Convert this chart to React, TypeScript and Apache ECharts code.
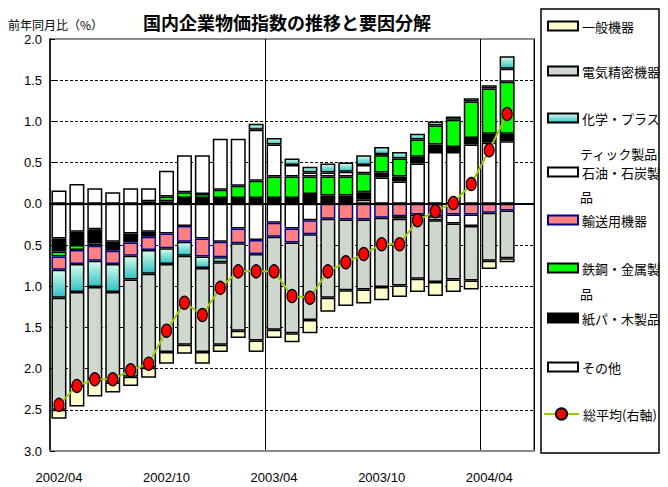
import React, { useEffect, useRef } from "react";
import * as echarts from "echarts";

// ---- data ----
const months = [
  "2002/04", "2002/05", "2002/06", "2002/07", "2002/08", "2002/09",
  "2002/10", "2002/11", "2002/12", "2003/01", "2003/02", "2003/03",
  "2003/04", "2003/05", "2003/06", "2003/07", "2003/08", "2003/09",
  "2003/10", "2003/11", "2003/12", "2004/01", "2004/02", "2004/03",
  "2004/04", "2004/05", "2004/06",
];

const sonota = [-0.42, -0.34, -0.31, -0.46, -0.36, -0.34, -0.36, -0.27, -0.42, -0.46, -0.30, -0.44, -0.23, -0.30, -0.20, null, null, 0.05, 0.32, 0.27, 0.49, 0.63, 0.63, 0.72, 0.74, 0.76];
const kamiPa = [-0.16, -0.16, -0.17, -0.11, -0.11, -0.06, 0.03, 0.07, 0.07, 0.07, 0.07, 0.07, 0.07, 0.07, 0.12, 0.10, 0.10, 0.09, 0.06, 0.06, 0.08, 0.09, 0.06, 0.08, 0.11, 0.09];
const tekko = [-0.06, -0.06, -0.03, null, null, 0.03, 0.06, 0.07, 0.05, 0.10, 0.15, 0.21, 0.26, 0.26, 0.21, 0.23, 0.23, 0.23, 0.21, 0.22, 0.21, 0.23, 0.33, 0.44, 0.55, 0.63];
const yuso = [-0.16, -0.17, -0.18, -0.16, -0.16, -0.16, -0.18, -0.19, -0.22, -0.19, -0.18, -0.17, -0.17, -0.17, -0.17, -0.18, -0.19, -0.19, -0.17, -0.15, -0.13, -0.15, -0.13, -0.13, -0.11, -0.08];
const sekiyu = [0.16, 0.24, 0.19, 0.14, 0.19, 0.16, 0.31, 0.45, 0.47, 0.62, 0.57, 0.62, 0.39, 0.14, 0.05, 0.05, 0.06, 0.10, 0.01, -0.03, null, -0.05, -0.11, -0.14, null, 0.16];
const kagaku = [-0.34, -0.34, -0.32, -0.34, -0.29, -0.29, -0.19, -0.17, -0.14, -0.06, null, 0.07, 0.08, 0.08, 0.07, 0.11, 0.11, 0.12, 0.09, 0.08, 0.07, 0.05, 0.04, 0.04, 0.04, 0.15];
const denki = [-1.36, -1.14, -1.12, -1.10, -1.18, -1.14, -1.07, -1.08, -1.02, -1.00, -1.06, -1.05, -1.13, -1.10, -1.04, -0.96, -0.86, -0.85, -0.84, -0.81, -0.78, -0.75, -0.68, -0.66, -0.58, -0.58];
const ippan = [-0.11, -0.25, -0.21, -0.12, -0.11, -0.12, -0.14, -0.11, -0.14, -0.09, -0.09, -0.14, -0.10, -0.11, -0.16, -0.17, -0.19, -0.17, -0.16, -0.14, -0.16, -0.17, -0.15, -0.11, -0.10, -0.05];
const sogoHeikin = [-2.44, -2.21, -2.13, -2.13, -2.02, -1.94, -1.54, -1.20, -1.35, -1.02, -0.82, -0.82, -0.82, -1.12, -1.14, -0.82, -0.71, -0.61, -0.49, -0.49, -0.20, -0.09, 0.01, 0.24, 0.65, 1.09];

const yTicks = { min: -3, max: 2, step: 0.5 };

const FONT_JP = '"Noto Sans CJK JP", "Noto Sans CJK SC", sans-serif';
const FONT_NUM = '"Liberation Sans", Arial, sans-serif';

const BORDER = { borderColor: "#000", borderWidth: 1.5 };

function makeOption() {
  const bar = (name: string, data: (number | null)[], itemStyle: any, extra: any = {}) => ({
    name,
    type: "bar",
    stack: "total",
    barWidth: 15,
    data,
    itemStyle,
    emphasis: { disabled: true },
    ...extra,
  });

  const tealGrad = new echarts.graphic.LinearGradient(0, 0, 0, 1, [
    { offset: 0, color: "#d8fbe9" },
    { offset: 1, color: "#2fc3c6" },
  ]);

  const series: any[] = [
    bar("その他", sonota, { color: "#ffffff", ...BORDER }),
    bar("紙パ・木製品", kamiPa, { color: "#000000", ...BORDER }),
    bar("鉄鋼・金属製品", tekko, { color: "#00ff00", ...BORDER }),
    bar("輸送用機器", yuso, { color: "#ff8080", borderColor: "#00008b", borderWidth: 1.5 }),
    bar("石油・石炭製品", sekiyu, { color: "#ffffff", ...BORDER }),
    bar("化学・プラスティック製品", kagaku, { color: tealGrad, ...BORDER }),
    bar("電気精密機器", denki, { color: "#cfd7cf", ...BORDER }),
    bar("一般機器", ippan, { color: "#ffffcc", ...BORDER }, {
      markLine: {
        silent: true,
        symbol: "none",
        label: { show: false },
        lineStyle: { color: "#000", width: 2, type: "solid" },
        data: [{ yAxis: 0 }],
      },
    }),
    {
      name: "総平均(右軸)",
      type: "line",
      data: sogoHeikin,
      symbol: "circle",
      symbolSize: [10, 13],
      showAllSymbol: true,
      lineStyle: { color: "#99cc00", width: 2 },
      itemStyle: { color: "#ff0000", borderColor: "#000", borderWidth: 1.2 },
      emphasis: { disabled: true },
      z: 5,
    },
  ];

  const legendItems: { name: string; y: number; label?: string; line?: boolean }[] = [
    { name: "一般機器", y: 26 },
    { name: "電気精密機器", y: 71 },
    { name: "化学・プラスティック製品", y: 118, label: "化学・プラス" },
    { name: "石油・石炭製品", y: 172, label: "石油・石炭製" },
    { name: "輸送用機器", y: 220 },
    { name: "鉄鋼・金属製品", y: 268, label: "鉄鋼・金属製" },
    { name: "紙パ・木製品", y: 318 },
    { name: "その他", y: 367 },
    { name: "総平均(右軸)", y: 414, line: true },
  ];

  const legend = legendItems.map((it) => ({
    data: [it.name],
    orient: "vertical",
    left: it.line ? 543 : 547,
    top: it.y - 8,
    padding: 0,
    itemWidth: it.line ? 35 : 30,
    itemHeight: it.line ? 14 : 9,
    itemGap: 0,
    icon: it.line ? undefined : "rect",
    selectedMode: false,
    formatter: it.label ? () => it.label as string : undefined,
    textStyle: { fontFamily: FONT_JP, fontSize: 13, lineHeight: 16, color: "#000", padding: [0, 0, 0, -1] },
  }));

  const graphic: any[] = [
    {
      type: "rect",
      shape: { x: 541, y: 9, width: 118, height: 444 },
      style: { fill: "none", stroke: "#000", lineWidth: 1.5 },
      silent: true,
    },
    {
      type: "text",
      x: 287,
      y: 22,
      style: { text: "国内企業物価指数の推移と要因分解", fontFamily: FONT_JP, fontSize: 18, fontWeight: "bold", fill: "#000", align: "center", verticalAlign: "middle" },
    },
    {
      type: "text",
      x: 8,
      y: 24,
      style: { text: "前年同月比（%）", fontFamily: FONT_JP, fontSize: 12, fill: "#000", align: "left", verticalAlign: "middle" },
    },
    { type: "text", x: 580, y: 153, style: { text: "ティック製品", fontFamily: FONT_JP, fontSize: 13, fill: "#000", verticalAlign: "middle" } },
    { type: "text", x: 580, y: 196, style: { text: "品", fontFamily: FONT_JP, fontSize: 13, fill: "#000", verticalAlign: "middle" } },
    { type: "text", x: 580, y: 293, style: { text: "品", fontFamily: FONT_JP, fontSize: 13, fill: "#000", verticalAlign: "middle" } },
  ];

  return {
    animation: false,
    backgroundColor: "#ffffff",
    grid: { left: 50, top: 39, width: 484, height: 412, show: true, borderColor: "#8c8c8c", borderWidth: 2, backgroundColor: "transparent" },
    legend,
    graphic,
    xAxis: {
      type: "category",
      data: months,
      boundaryGap: true,
      axisLine: { onZero: false, lineStyle: { color: "#8c8c8c", width: 2 } },
      axisTick: { show: false },
      axisLabel: { interval: 5, fontSize: 13, fontFamily: FONT_NUM, color: "#000", margin: 20 },
      splitLine: {
        show: true,
        interval: (i: number) => i === 12 || i === 24,
        lineStyle: { color: "#000", width: 1 },
      },
    },
    yAxis: {
      type: "value",
      min: yTicks.min,
      max: yTicks.max,
      interval: yTicks.step,
      axisLine: { show: true, lineStyle: { color: "#000", width: 1.5 } },
      axisTick: { show: true, inside: true, length: 5, lineStyle: { color: "#000" } },
      axisLabel: {
        formatter: (v: number) => Math.abs(v).toFixed(1),
        fontSize: 13,
        fontFamily: FONT_NUM,
        color: "#000",
        margin: 8,
        padding: [6, 0, 0, 0],
      },
      splitLine: { show: true, showMinLine: false, showMaxLine: false, lineStyle: { color: "#000", type: [3, 2], width: 1 } },
    },
    series,
  };
}

export default function App() {
  const ref = useRef<HTMLDivElement>(null);
  useEffect(() => {
    if (!ref.current) return;
    const chart = echarts.init(ref.current, undefined, { renderer: "svg" });
    chart.setOption(makeOption() as any);
    return () => chart.dispose();
  }, []);
  return (
    <div
      ref={ref}
      style={{ position: "absolute", left: 0, top: 0, width: 668, height: 487 }}
    />
  );
}
